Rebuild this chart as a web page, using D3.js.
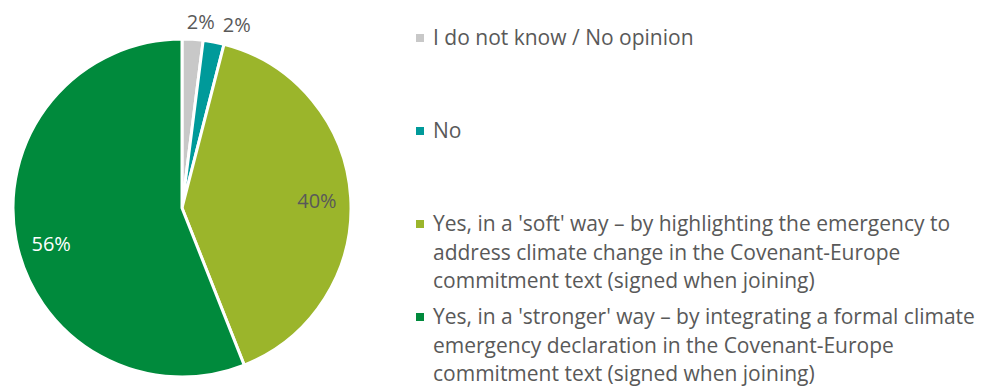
<!DOCTYPE html>
<html>
<head>
<meta charset="utf-8">
<script src="https://cdn.jsdelivr.net/npm/d3@7"></script>
<style>
  html, body { margin: 0; padding: 0; background: #fff; }
  svg { display: block; }
  text { font-family: "Open Sans", "Noto Sans", sans-serif; }
</style>
</head>
<body>
<svg id="chart" width="982" height="387"></svg>
<script>
// Survey answers, in drawing order (clockwise from 12 o'clock)
const categories = [
  "I do not know / No opinion",
  "No",
  "Yes, in a 'soft' way – by highlighting the emergency to address climate change in the Covenant-Europe commitment text (signed when joining)",
  "Yes, in a 'stronger' way – by integrating a formal climate emergency declaration in the Covenant-Europe commitment text (signed when joining)"
];
const shares = [2, 2, 40, 56];
const valueLabels = ["2%", "2%", "40%", "56%"];
// Legend text, broken into the lines it is set on
const legendLines = [
  ["I do not know / No opinion"],
  ["No"],
  ["Yes, in a 'soft' way – by highlighting the emergency to",
   "address climate change in the Covenant-Europe",
   "commitment text (signed when joining)"],
  ["Yes, in a 'stronger' way – by integrating a formal climate",
   "emergency declaration in the Covenant-Europe",
   "commitment text (signed when joining)"]
];
const sliceColors = ["#c8c8c8", "#009a9a", "#9bb52b", "#008a3c"];

const svg = d3.select("#chart");
const cx = 182, cy = 208, radius = 169;
const labelFont = 20;
const legendFont = 21;

const color = d3.scaleOrdinal().domain(categories).range(sliceColors);

const pie = d3.pie().sort(null).value(d => d.value);
const arcs = pie(categories.map((c, i) => ({ name: c, value: shares[i], label: valueLabels[i] })));
const arc = d3.arc().innerRadius(0).outerRadius(radius);

const g = svg.append("g").attr("transform", `translate(${cx},${cy})`);

g.selectAll("path.slice")
  .data(arcs)
  .join("path")
  .attr("class", "slice")
  .attr("d", arc)
  .attr("fill", d => color(d.data.name))
  .attr("stroke", "#fff")
  .attr("stroke-width", 3)
  .attr("stroke-linejoin", "miter");

// Data labels: large slices get an inside label, thin ones sit outside the rim
const insideArc = d3.arc().innerRadius(radius * 0.8).outerRadius(radius * 0.8);
const outsideR = radius + 19;
const labelPos = arcs.map(d => {
  const mid = (d.startAngle + d.endAngle) / 2;
  const inside = d.data.value >= 10;
  let x, y;
  if (inside) {
    [x, y] = insideArc.centroid(d);
    if (mid > Math.PI) { x += 2; y += 10; } else { y += 1; }
  } else {
    x = Math.sin(mid) * outsideR + 7;
    y = -Math.cos(mid) * outsideR + 1;
  }
  return { d, x, y, inside };
});
// keep neighbouring outside labels from overlapping
const outside = labelPos.filter(p => !p.inside);
for (let i = 1; i < outside.length; i++) {
  const minGap = 36;
  if (outside[i].x - outside[i - 1].x < minGap) outside[i].x = outside[i - 1].x + minGap;
}

g.selectAll("text.value")
  .data(labelPos)
  .join("text")
  .attr("class", "value")
  .attr("x", p => p.x)
  .attr("y", p => p.y)
  .attr("text-anchor", "middle")
  .attr("dominant-baseline", "central")
  .attr("font-size", labelFont)
  .attr("fill", p => p.d.data.value > 50 ? "#ffffff" : "#595959")
  .text(p => p.d.data.label);

// Legend
const legendY = d3.scalePoint().domain(categories).range([37, 316]);
const lineH = 28.5;
const legend = svg.append("g");
const items = legend.selectAll("g.item")
  .data(categories)
  .join("g")
  .attr("class", "item")
  .attr("transform", c => `translate(416,${legendY(c)})`);

items.append("rect")
  .attr("x", 0).attr("y", -3)
  .attr("width", 8).attr("height", 8)
  .attr("fill", c => color(c));

items.append("text")
  .attr("font-size", legendFont)
  .attr("fill", "#595959")
  .selectAll("tspan")
  .data((c, i) => legendLines[i])
  .join("tspan")
  .attr("x", 17)
  .attr("y", (t, j) => j * lineH)
  .attr("dominant-baseline", "central")
  .text(t => t);
</script>
</body>
</html>
